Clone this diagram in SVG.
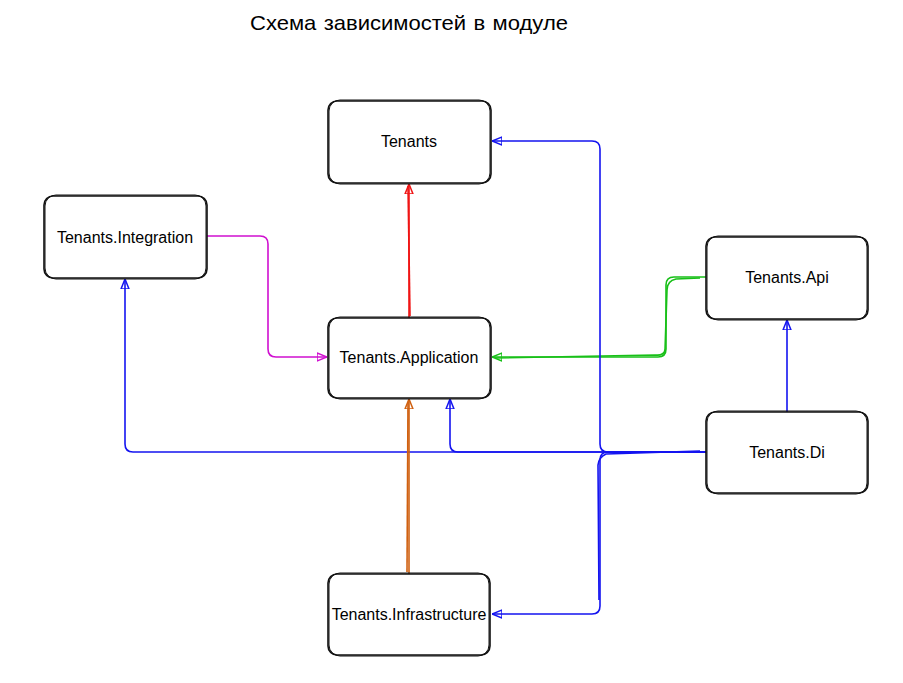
<svg xmlns="http://www.w3.org/2000/svg" width="903" height="683" viewBox="0 0 903 683">
<style>
.box{fill:#fff;stroke:#111;stroke-width:1.6}
.box2{fill:none;stroke:#111;stroke-width:1}
.lbl{font-family:"Liberation Sans",Arial,sans-serif;font-size:16px;fill:#000;text-anchor:middle;dominant-baseline:central}
.title{font-family:"Comic Sans MS","Comic Neue","Liberation Sans",sans-serif;font-size:21px;fill:#000;text-anchor:middle}
.c{fill:none;stroke-width:1.6;stroke-linejoin:round}
.blue{stroke:#1414f0}
.red{stroke:#f01414}
.mag{stroke:#d010d0}
.grn{stroke:#18c018}
.org{stroke:#d06010}
</style>
<defs>
<marker id="aBlue" viewBox="0 0 10 10" refX="10" refY="5" markerWidth="10" markerHeight="10" markerUnits="userSpaceOnUse" orient="auto"><path d="M0,1 L10,5 L0,9 Z" fill="none" stroke="#1414f0" stroke-width="1.5"/></marker>
<marker id="aRed" viewBox="0 0 10 10" refX="10" refY="5" markerWidth="10" markerHeight="10" markerUnits="userSpaceOnUse" orient="auto"><path d="M0,1 L10,5 L0,9 Z" fill="none" stroke="#f01414" stroke-width="1.5"/></marker>
<marker id="aMag" viewBox="0 0 10 10" refX="10" refY="5" markerWidth="10" markerHeight="10" markerUnits="userSpaceOnUse" orient="auto"><path d="M0,1 L10,5 L0,9 Z" fill="none" stroke="#d010d0" stroke-width="1.5"/></marker>
<marker id="aGrn" viewBox="0 0 10 10" refX="10" refY="5" markerWidth="10" markerHeight="10" markerUnits="userSpaceOnUse" orient="auto"><path d="M0,1 L10,5 L0,9 Z" fill="none" stroke="#18c018" stroke-width="1.5"/></marker>
<marker id="aOrg" viewBox="0 0 10 10" refX="10" refY="5" markerWidth="10" markerHeight="10" markerUnits="userSpaceOnUse" orient="auto"><path d="M0,1 L10,5 L0,9 Z" fill="none" stroke="#d06010" stroke-width="1.5"/></marker>
</defs>
<rect width="903" height="683" fill="#fff"/>
<text class="title" x="409" y="30" textLength="318" lengthAdjust="spacingAndGlyphs">Схема зависимостей в модуле</text>

<g id="connectors">
<path class="c red" d="M409,318 L409,184" marker-end="url(#aRed)"/>
<path class="c red" d="M410,316 L408,186" stroke-width="1"/>
<path class="c mag" d="M207,236 L260,236 Q268,236 268,244 L268,349 Q268,357 276,357 L327,357" marker-end="url(#aMag)"/>
<path class="c grn" d="M706,277 L674,277 Q666,277 666,285 L666,349 Q666,357 658,357 L492,357" marker-end="url(#aGrn)"/>
<path class="c grn" d="M700,278 L676,279 Q667,281 667,290 L665,350 Q664,356 655,355 L495,358" stroke-width="1"/>
<path class="c blue" d="M787,412 L787,320" marker-end="url(#aBlue)"/>
<path class="c blue" d="M706,452 L133,452 Q125,452 125,444 L125,279" marker-end="url(#aBlue)"/>
<path class="c blue" d="M706,452 L458,452 Q450,452 450,444 L450,399" marker-end="url(#aBlue)"/>
<path class="c blue" d="M706,452 L608,452 Q600,452 600,444 L600,149 Q600,141 592,141 L492,141" marker-end="url(#aBlue)"/>
<path class="c blue" d="M706,452 L608,452 Q600,452 600,460 L600,606 Q600,614 592,614 L492,614" marker-end="url(#aBlue)"/>
<path class="c blue" d="M700,451 L606,454 Q599,457 598,465 L599,600" stroke-width="1"/>
<path class="c org" d="M409,574 L409,399" marker-end="url(#aOrg)"/>
<path class="c org" d="M407,572 L408,402" stroke-width="1"/>
</g>

<g id="node-tenants">
<rect class="box" x="328" y="101" width="163" height="82" rx="9"/>
<rect class="box2" x="329" y="100" width="161" height="84" rx="11"/>
<text class="lbl" x="409" y="141">Tenants</text>
</g>
<g id="node-integration">
<rect class="box" x="44" y="196" width="163" height="82" rx="9"/>
<rect class="box2" x="45" y="195" width="161" height="84" rx="11"/>
<text class="lbl" x="125" y="237">Tenants.Integration</text>
</g>
<g id="node-application">
<rect class="box" x="328" y="318" width="163" height="80" rx="9"/>
<rect class="box2" x="329" y="317" width="161" height="82" rx="11"/>
<text class="lbl" x="409" y="357">Tenants.Application</text>
</g>
<g id="node-api">
<rect class="box" x="706" y="237" width="162" height="82" rx="9"/>
<rect class="box2" x="707" y="236" width="160" height="84" rx="11"/>
<text class="lbl" x="787" y="277">Tenants.Api</text>
</g>
<g id="node-di">
<rect class="box" x="706" y="412" width="162" height="81" rx="9"/>
<rect class="box2" x="707" y="411" width="160" height="83" rx="11"/>
<text class="lbl" x="787" y="452">Tenants.Di</text>
</g>
<g id="node-infrastructure">
<rect class="box" x="328" y="574" width="162" height="81" rx="9"/>
<rect class="box2" x="329" y="573" width="160" height="83" rx="11"/>
<text class="lbl" x="409" y="614">Tenants.Infrastructure</text>
</g>
</svg>
